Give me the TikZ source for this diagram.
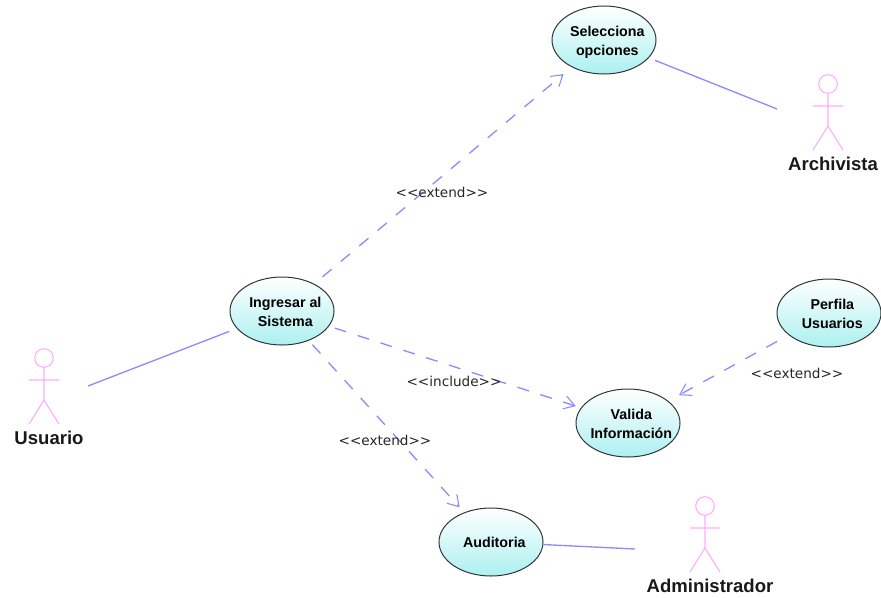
\documentclass[tikz,border=0pt]{standalone}
\usepackage{fontspec}
\setmainfont{Liberation Sans}
\newfontfamily\stereofont{DejaVu Sans}
\usetikzlibrary{shapes.geometric,arrows.meta}
\definecolor{linkblue}{RGB}{140,140,255}
\definecolor{actorpink}{RGB}{255,170,255}
\definecolor{casecyan}{RGB}{172,240,240}
\newcommand{\casetext}[1]{\makebox[0pt]{\hspace*{5pt}\raisebox{-4.2pt}[0pt][0pt]{\begin{tabular}{@{}c@{}}#1\end{tabular}}}}
\tikzset{
  x=0.75pt,y=-0.75pt,
  usecase/.style={ellipse,draw=black!80,line width=0.75pt,top color=white,bottom color=casecyan,
    minimum width=78pt,minimum height=51pt,inner sep=0pt,
    font=\fontsize{10.7pt}{14pt}\selectfont\bfseries},
  assoc/.style={draw=linkblue,line width=1pt},
  dep/.style={draw=linkblue,line width=1pt,dash pattern=on 9pt off 9pt,
    -{Straight Barb[length=8pt,width=10pt,line width=0.8pt]}},
  actorline/.style={draw=actorpink,line width=0.8pt},
  actorname/.style={font=\fontsize{13.9pt}{15pt}\selectfont\bfseries,text=black!90,inner sep=0pt},
  stereo/.style={font=\stereofont\fontsize{10.2pt}{12pt}\selectfont,text=black!85,inner sep=0pt},
  actorfig/.pic={
    \draw[actorline] (0,0) circle[radius=9.3];
    \draw[actorline] (0,9.3) -- (0,42) (-15,22) -- (15,22) (-15,66) -- (0,42) -- (15,66);
  }
}
\begin{document}
\begin{tikzpicture}
\useasboundingbox (0,0) rectangle (881,597);
\node[usecase] (sel) at (604,40) {\casetext{Selecciona\\opciones}};
\node[usecase] (ing) at (282,311) {\casetext{Ingresar al\\Sistema}};
\node[usecase] (val) at (628,423) {\casetext{Valida\\Información}};
\node[usecase] (per) at (829,313) {\casetext{Perfila\\Usuarios}};
\node[usecase] (aud) at (491,542) {\casetext{Auditoria}};
\pic at (828,84) {actorfig};
\pic at (44,358) {actorfig};
\pic at (705,506) {actorfig};
\node[actorname] (narc) at (833,164) {Archivista};
\node[actorname] (nusu) at (49,438) {Usuario};
\node[actorname] (nadm) at (710,586) {Administrador};
\coordinate (aarc) at (777,109);
\coordinate (ausu) at (88,386);
\coordinate (aadm) at (635,549);
\draw[assoc,shorten >=6pt] (ausu) -- (ing);
\draw[assoc,shorten <=5pt] (sel) -- (aarc);
\draw[assoc] (aud) -- (aadm);
\draw[dep,shorten <=8pt,shorten >=8pt] (ing) -- (sel);
\draw[dep,shorten <=4.5pt,shorten >=4pt] (ing) -- (val);
\draw[dep,shorten <=4pt,shorten >=5pt] (ing) -- (aud);
\draw[dep,shorten <=10pt,shorten >=9pt] (per) -- (val);
\node[stereo] (l1) at (442,192) {{<}{<}extend{>}{>}};
\node[stereo] (l2) at (454,381) {{<}{<}include{>}{>}};
\node[stereo] (l3) at (385,440) {{<}{<}extend{>}{>}};
\node[stereo] (l4) at (797,373) {{<}{<}extend{>}{>}};
\end{tikzpicture}
\end{document}
